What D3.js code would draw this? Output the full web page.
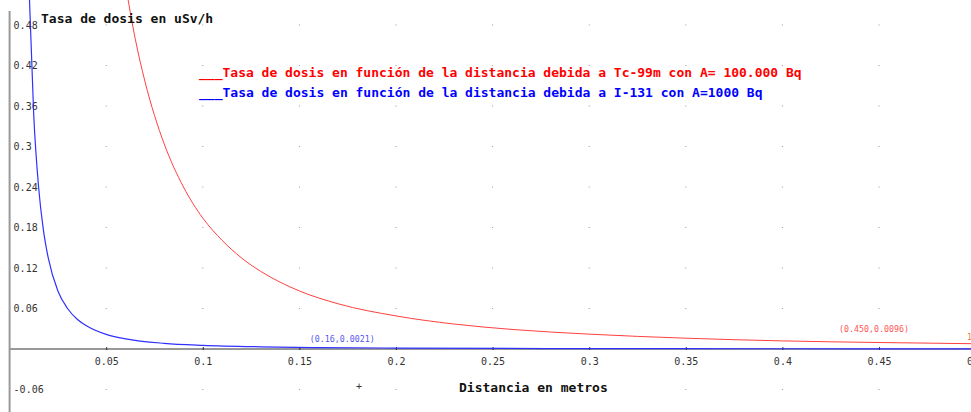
<!DOCTYPE html>
<html>
<head>
<meta charset="utf-8">
<script src="https://cdn.jsdelivr.net/npm/d3@7"></script>
<style>
  body { margin: 0; background: #fff; }
  #chart { width: 971px; height: 412px; }
  text { font-family: "DejaVu Sans Mono", monospace; }
</style>
</head>
<body>
<div id="chart"></div>
<script>
// distance (m) and dose rate (uSv/h)
const tcDist = [0.06, 0.065, 0.07, 0.075, 0.08, 0.09, 0.1, 0.11, 0.12, 0.13, 0.14, 0.15, 0.17, 0.2, 0.23, 0.26, 0.3, 0.35, 0.4, 0.45, 0.5];
const tcRate = [0.54, 0.46, 0.397, 0.346, 0.304, 0.24, 0.194, 0.161, 0.135, 0.115, 0.099, 0.086, 0.067, 0.049, 0.037, 0.029, 0.022, 0.016, 0.012, 0.0096, 0.0078];
const iDist = [0.01, 0.0125, 0.015, 0.0175, 0.02, 0.025, 0.03, 0.035, 0.04, 0.05, 0.06, 0.08, 0.1, 0.13, 0.16, 0.2, 0.3, 0.4, 0.5];
const iRate = [0.54, 0.346, 0.24, 0.176, 0.135, 0.086, 0.06, 0.044, 0.034, 0.0216, 0.015, 0.0084, 0.0054, 0.0032, 0.0021, 0.00135, 0.0006, 0.00034, 0.00022];

const xTicks = [0.05, 0.1, 0.15, 0.2, 0.25, 0.3, 0.35, 0.4, 0.45, 0.5];
const xTickLabels = ["0.05", "0.1", "0.15", "0.2", "0.25", "0.3", "0.35", "0.4", "0.45", "0.5"];
const yTicks = [-0.06, 0.06, 0.12, 0.18, 0.24, 0.3, 0.36, 0.42, 0.48];
const yTickLabels = ["-0.06", "0.06", "0.12", "0.18", "0.24", "0.3", "0.36", "0.42", "0.48"];

const yTitle = "Tasa de dosis en uSv/h";
const xTitle = "Distancia en metros";
const legendTc = "___Tasa de dosis en función de la distancia debida a Tc-99m con A= 100.000 Bq";
const legendI = "___Tasa de dosis en función de la distancia debida a I-131 con A=1000 Bq";
const tcMark = [0.45, 0.0096];
const iMark = [0.16, 0.0021];

const width = 971;
const height = 412;

const svg = d3.select("#chart").append("svg")
  .attr("width", width)
  .attr("height", height);

const x = d3.scaleLinear().domain([0, 0.5]).range([9.6, 975.6]);
const y = d3.scaleLinear().domain([0, 0.48]).range([349, 25]);

svg.append("defs").append("clipPath").attr("id", "plot")
  .append("rect")
  .attr("x", x(0)).attr("y", 0)
  .attr("width", width - x(0)).attr("height", height);

// grid dots
const gridRows = yTicks.concat([0]);
gridRows.forEach((v) => {
  svg.append("g").selectAll("rect")
    .data(xTicks)
    .enter()
    .append("rect")
    .attr("x", (d) => x(d) - 0.5)
    .attr("y", y(v) - 0.5)
    .attr("width", 1)
    .attr("height", 1)
    .style("fill", "#999");
});

// x axis
const xAxis = d3.axisBottom(x)
  .tickValues(xTicks)
  .tickSize(3)
  .tickPadding(6)
  .tickFormat((d, i) => xTickLabels[i]);

const gx = svg.append("g")
  .attr("transform", "translate(0," + y(0) + ")")
  .call(xAxis);
gx.select(".domain").remove();
gx.selectAll(".tick line").attr("y1", -2).attr("y2", 1).style("stroke", "#333");
gx.selectAll(".tick text")
  .style("font-size", "10px")
  .style("fill", "#333")
  .style("font-family", "DejaVu Sans Mono, monospace");

svg.append("line")
  .attr("x1", x(0)).attr("x2", width)
  .attr("y1", y(0)).attr("y2", y(0))
  .style("stroke", "#333")
  .style("stroke-width", 1);

// y axis
const yAxis = d3.axisRight(y)
  .tickValues(yTicks)
  .tickSize(0)
  .tickPadding(4)
  .tickFormat((d, i) => yTickLabels[i]);

const gy = svg.append("g")
  .attr("transform", "translate(" + x(0) + ",0)")
  .call(yAxis);
gy.select(".domain").remove();
gy.selectAll(".tick text")
  .style("font-size", "10px")
  .style("fill", "#333")
  .style("font-family", "DejaVu Sans Mono, monospace");

svg.append("line")
  .attr("x1", x(0)).attr("x2", x(0))
  .attr("y1", 11).attr("y2", height)
  .style("stroke", "#999")
  .style("stroke-width", 2);

// curves
const line = d3.line()
  .x((d) => x(d[0]))
  .y((d) => y(d[1]))
  .curve(d3.curveMonotoneX);

const plot = svg.append("g").attr("clip-path", "url(#plot)");

plot.append("path")
  .attr("d", line(tcDist.map((d, i) => [d, tcRate[i]])))
  .style("fill", "none")
  .style("stroke", "#ff4040")
  .style("stroke-width", 1);

plot.append("path")
  .attr("d", line(iDist.map((d, i) => [d, iRate[i]])))
  .style("fill", "none")
  .style("stroke", "#3030ff")
  .style("stroke-width", 1.2);

// point labels
svg.append("text")
  .attr("x", x(iMark[0]) - 9)
  .attr("y", y(iMark[1]) - 6)
  .style("font-size", "8.3px")
  .style("fill", "#5555ee")
  .text("(" + iMark[0].toFixed(2) + "," + iMark[1] + ")");

svg.append("text")
  .attr("x", x(tcMark[0]) - 40)
  .attr("y", y(tcMark[1]) - 11)
  .style("font-size", "8.3px")
  .style("fill", "#ff5555")
  .text("(" + tcMark[0].toFixed(3) + "," + tcMark[1] + ")");

svg.append("text")
  .attr("x", 967)
  .attr("y", 340)
  .style("font-size", "8.3px")
  .style("fill", "#e08030")
  .text("1");

// titles
svg.append("text")
  .attr("x", 41)
  .attr("y", 22.5)
  .style("font-size", "13px")
  .style("font-weight", "bold")
  .style("fill", "#111")
  .text(yTitle);

svg.append("text")
  .attr("x", 459)
  .attr("y", 392)
  .style("font-size", "13px")
  .style("font-weight", "bold")
  .style("fill", "#111")
  .text(xTitle);

svg.append("text")
  .attr("x", 356)
  .attr("y", 390)
  .style("font-size", "10px")
  .style("fill", "#333")
  .text("+");

// legend
svg.append("text")
  .attr("x", 199)
  .attr("y", 76.5)
  .style("font-size", "13px")
  .style("font-weight", "bold")
  .style("fill", "#ff0000")
  .text(legendTc);

svg.append("text")
  .attr("x", 199)
  .attr("y", 96.5)
  .style("font-size", "13px")
  .style("font-weight", "bold")
  .style("fill", "#0000ff")
  .text(legendI);
</script>
</body>
</html>
